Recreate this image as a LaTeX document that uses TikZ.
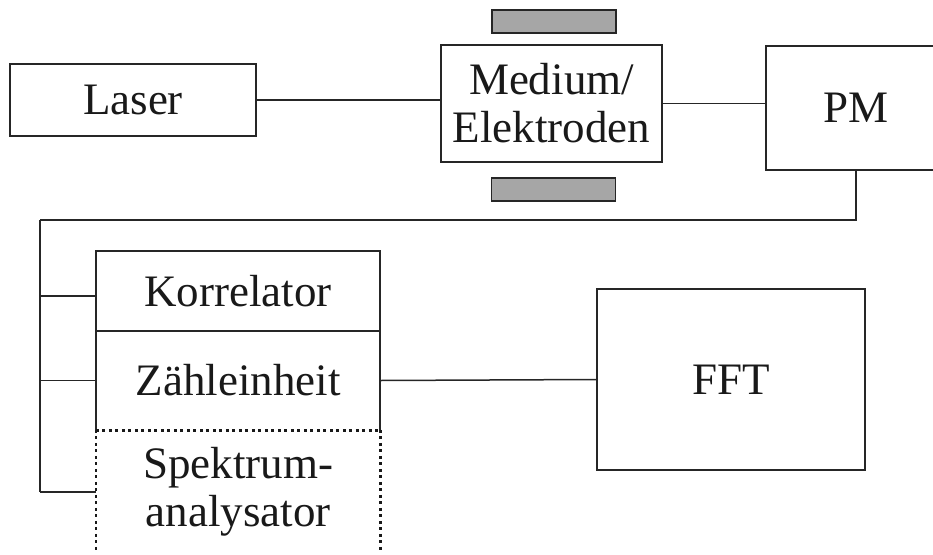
\documentclass[tikz,border=0pt]{standalone}
\usepackage{fontspec}
\setmainfont{Liberation Serif}
\definecolor{elgray}{HTML}{A6A6A6}
\tikzset{
  lbl/.style={font=\fontsize{45}{48}\selectfont, text=black!90, align=center, inner sep=0pt},
  box/.style={lbl, draw=black!85, line width=1.5pt, rectangle},
  nobox/.style={lbl, draw=none, rectangle},
  wire/.style={draw=black!85, line width=1.5pt},
  thickwire/.style={draw=black!85, line width=2.3pt},
  dotline/.style={draw=black!90, line width=2.6pt, dash pattern=on 3pt off 3.5pt},
  electrode/.style={draw=black!85, line width=1.5pt, fill=elgray, minimum width=124pt, minimum height=23pt, inner sep=0pt}
}
\begin{document}
\begin{tikzpicture}[x=1pt,y=-1pt]
\useasboundingbox (0,0) rectangle (933,554);
% top row
\node[box, minimum width=246pt, minimum height=72pt] (laser) at (133,100) {Laser};
\node[box, minimum width=221pt, minimum height=117pt] (medium) at (551.5,103.5) {Medium/\\Elektroden};
\node[electrode] (eltop) at (554,21.5) {};
\node[electrode] (elbot) at (553.5,189.5) {};
\node[box, minimum width=180pt, minimum height=124pt] (pm) at (856,108) {PM};
% lower blocks
\node[box, minimum width=284pt, minimum height=80pt] (korr) at (238,291) {Korrelator};
\node[nobox, minimum width=284pt, minimum height=99pt] (zaehl) at (238,380.5) {Z\"ahleinheit};
\node[nobox, minimum width=284pt, minimum height=124pt] (spek) at (238,492) {Spektrum-\\analysator};
\node[box, minimum width=268pt, minimum height=181pt] (fft) at (731,379.5) {FFT};
% Zaehleinheit sides
\draw[wire] (zaehl.south west) -- (zaehl.north west) -- (zaehl.north east) -- (zaehl.south east);
\draw[dotline] (zaehl.south west) -- (zaehl.south east);
% Spektrumanalysator dotted sides
\draw[dotline] (spek.north west) -- ([yshift=4pt]spek.south west);
\draw[dotline] (spek.north east) -- ([yshift=4pt]spek.south east);
% connectors
\draw[wire] (laser.east) -- (laser.east -| medium.west);
\draw[wire] (medium.east) -- (medium.east -| pm.west);
\coordinate (busTR) at (856,220);
\coordinate (busTL) at (40,220);
\coordinate (busB) at (40,492);
\coordinate (busK) at (40,296);
\coordinate (busZ) at (40,380.5);
\draw[wire] (pm.south) -- (busTR) -- (busTL);
\draw[thickwire] (busTL) -- (busB);
\draw[thickwire] (busK) -- (busK -| korr.west);
\draw[wire] (busZ) -- (zaehl.west);
\draw[wire] (busB) -- (busB -| spek.west);
\draw[wire] (zaehl.east) -- (fft.west);
\end{tikzpicture}
\end{document}
